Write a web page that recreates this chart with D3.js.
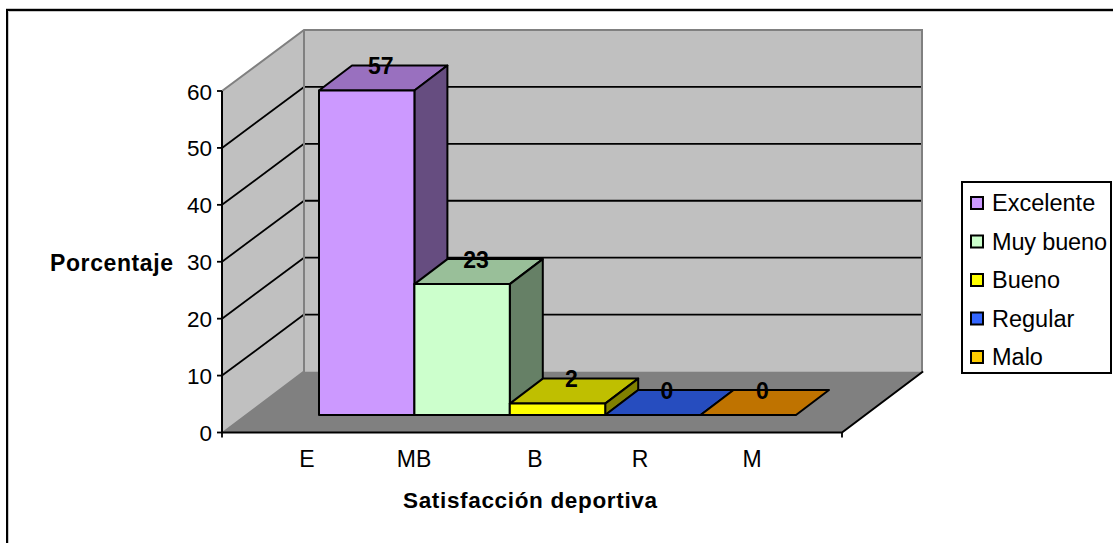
<!DOCTYPE html>
<html><head><meta charset="utf-8">
<script src="https://cdn.jsdelivr.net/npm/d3@7/dist/d3.min.js"></script>
<style>html,body{margin:0;padding:0;background:#fff}svg{display:block}text{font-family:"Liberation Sans",Arial,sans-serif;fill:#000}</style>
</head><body><svg id="c" width="1113" height="543"></svg>
<script>
const seriesNames = ["Excelente","Muy bueno","Bueno","Regular","Malo"];
const seriesValues = [57,23,2,0,0];
const categoryLabels = ["E","MB","B","R","M"];
const yTicks = [0,10,20,30,40,50,60];
const frontColors = ["#CC99FF","#CCFFCC","#FFFF00","#3366FF","#FFCC00"];
const topColors = ["#9970BF","#99BF99","#BFBF00","#264DBF","#BF7300"];
const sideColors = ["#664D80","#668066","#808000","#1A3380","#806600"];

const svg = d3.select("#c");
const y = d3.scaleLinear().domain([0,60]).range([432.5,91]);
const xFloor = [222,842];
const wall = {dx:82,dy:-61};
const bar = {dx:33,dy:-25,lift:17.5};
const x = d3.scaleBand().domain(seriesNames).range([319,796]);
const xLabel = d3.scaleOrdinal().domain(categoryLabels).range([307,414,535,640,752]);
const poly = pts => pts.map(p=>p.join(",")).join(" ");

// chart frame
svg.append("path").attr("d","M7,543V10H1113").attr("fill","none").attr("stroke","#000").attr("stroke-width",2);
svg.append("path").attr("d","M8.5,543V11.5H1113").attr("fill","none").attr("stroke","#c8c8c8").attr("stroke-width",1);
svg.append("path").attr("d","M6,8.5H1113").attr("fill","none").attr("stroke","#c8c8c8").attr("stroke-width",1);

// walls and floor
const y0=y(0), y60=y(60), L=xFloor[0], R=xFloor[1];
svg.append("polygon").attr("points",poly([[L,y60],[L+wall.dx,y60+wall.dy],[L+wall.dx,y0+wall.dy],[L,y0]])).attr("fill","#C0C0C0");
svg.append("polygon").attr("points",poly([[L+wall.dx,y60+wall.dy],[R+wall.dx-2,y60+wall.dy],[R+wall.dx-2,y0+wall.dy],[L+wall.dx,y0+wall.dy]])).attr("fill","#C0C0C0");
svg.append("polygon").attr("points",poly([[L,y0],[L+wall.dx,y0+wall.dy],[R+wall.dx,y0+wall.dy],[R,y0]])).attr("fill","#808080");

// grid
yTicks.filter(t=>t>0).forEach(t=>{
  if(t<60) svg.append("line").attr("x1",L).attr("y1",y(t)).attr("x2",L+wall.dx).attr("y2",y(t)+wall.dy).attr("stroke","#000").attr("stroke-width",1.8);
  svg.append("line").attr("x1",L+wall.dx).attr("y1",y(t)+wall.dy).attr("x2",R+wall.dx-2).attr("y2",y(t)+wall.dy).attr("stroke","#000").attr("stroke-width",1.8);
});
// wall edges
svg.append("path").attr("d",`M${L},${y60}L${L+wall.dx},${y60+wall.dy}H${R+wall.dx-2}V${y0+wall.dy}`).attr("fill","none").attr("stroke","#808080").attr("stroke-width",2);
svg.append("path").attr("d",`M${L+wall.dx},${y60+wall.dy}V${y0+wall.dy}L${L+1},${y0}`).attr("fill","none").attr("stroke","#808080").attr("stroke-width",2);

// axes lines
svg.append("path").attr("d",`M${L},${y60}V${y0}H${R}L${R+wall.dx-1},${y0+wall.dy}`).attr("fill","none").attr("stroke","#000").attr("stroke-width",2);
svg.append("path").attr("d",`M${L},${y0}V${y0+5}M${R},${y0}V${y0+5}`).attr("fill","none").attr("stroke","#000").attr("stroke-width",1.8);
yTicks.forEach(t=>{
  svg.append("line").attr("x1",L-5).attr("x2",L).attr("y1",y(t)).attr("y2",y(t)).attr("stroke","#000").attr("stroke-width",1.8);
  svg.append("text").attr("x",L-10).attr("y",y(t)+8.5).attr("text-anchor","end").attr("font-size",22.5).text(t);
});

// bars
seriesNames.forEach((n,i)=>{
  const v=seriesValues[i], xl=x(n), xr=xl+x.bandwidth(), yb=y(0)-bar.lift, yt=y(v)-bar.lift;
  const g=svg.append("g").attr("stroke","#000").attr("stroke-width",2).attr("stroke-linejoin","round");
  g.append("polygon").attr("points",poly([[xl,yt],[xl+bar.dx,yt+bar.dy],[xr+bar.dx,yt+bar.dy],[xr,yt]])).attr("fill",topColors[i]);
  if(v>0){
    g.append("polygon").attr("points",poly([[xr,yt],[xr+bar.dx,yt+bar.dy],[xr+bar.dx,yb+bar.dy],[xr,yb]])).attr("fill",sideColors[i]);
    g.append("rect").attr("x",xl).attr("y",yt).attr("width",x.bandwidth()).attr("height",yb-yt).attr("fill",frontColors[i]);
  }
});
seriesNames.forEach((n,i)=>{
  const v=seriesValues[i];
  svg.append("text").attr("x",x(n)+x.bandwidth()/2+14).attr("y",y(v)-bar.lift+bar.dy+8.5)
    .attr("text-anchor","middle").attr("font-size",23).attr("font-weight","bold").text(v);
});

// category labels
categoryLabels.forEach(c=>{
  svg.append("text").attr("x",xLabel(c)).attr("y",467).attr("text-anchor","middle").attr("font-size",23).text(c);
});
svg.append("text").attr("x",403).attr("y",508).attr("font-size",22.5).attr("font-weight","bold").attr("textLength",254).text("Satisfacción deportiva");
svg.append("text").attr("x",50).attr("y",271).attr("font-size",23).attr("font-weight","bold").attr("textLength",123).text("Porcentaje");

// legend
svg.append("rect").attr("x",962).attr("y",182).attr("width",149).attr("height",191).attr("fill","#fff").attr("stroke","#000").attr("stroke-width",2);
const legendY = d3.scalePoint().domain(seriesNames).range([203,357]);
seriesNames.forEach((n,i)=>{
  svg.append("rect").attr("x",971).attr("y",legendY(n)-6).attr("width",12).attr("height",12).attr("fill",frontColors[i]).attr("stroke","#000").attr("stroke-width",2);
  svg.append("text").attr("x",992).attr("y",legendY(n)+8).attr("font-size",23.5).attr("textLength",n==="Muy bueno"?115:null).text(n);
});
</script></body></html>
